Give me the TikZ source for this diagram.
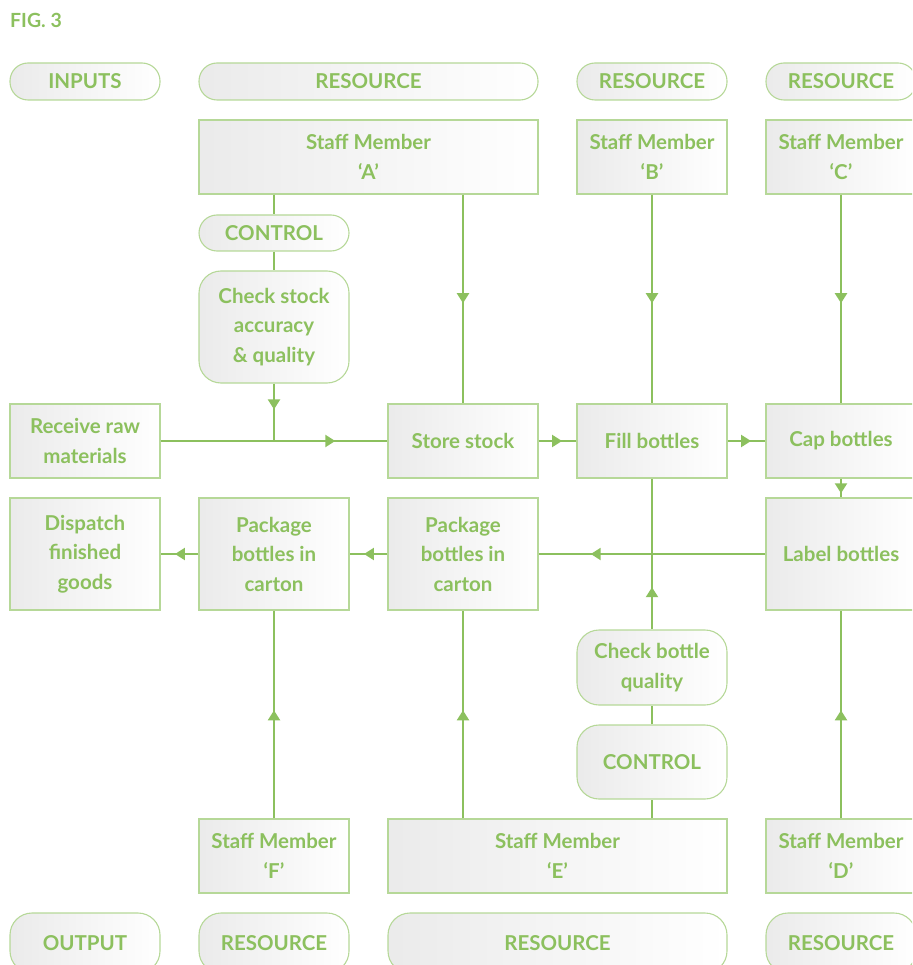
\documentclass[tikz,border=0pt]{standalone}
\usepackage{fontspec}
\setmainfont{Lato}
\usetikzlibrary{arrows.meta,decorations.markings}
\definecolor{tgreen}{RGB}{140,192,94}
\definecolor{lgreen}{RGB}{140,192,94}
\definecolor{bgreen}{RGB}{182,216,152}
\tikzset{
  box/.style={draw=bgreen, line width=1.1pt, left color=black!8, right color=white,
    text=tgreen, font=\fontsize{20.5}{29.5}\selectfont\bfseries, align=center, inner sep=0pt},
  pill/.style={box, rounded corners=18pt},
  rbox/.style={box, rounded corners=22pt},
  conn/.style={draw=lgreen, line width=2.2pt},
  tipat/.style={postaction={decorate}, decoration={markings,
    mark=at position #1 with {\arrow[lgreen]{Triangle[length=10pt,width=12pt]}}}}
}
\begin{document}
\begin{tikzpicture}[x=1pt,y=-1pt]
\useasboundingbox (0,0) rectangle (912,965);
\clip (0,0) rectangle (912,965);
\node[anchor=base west, text=tgreen, font=\fontsize{19.5}{24}\selectfont\bfseries, inner sep=0pt] (fig) at (10,28) {FIG. 3};
% header pills
\node[pill, minimum width=150, minimum height=37] (hin) at (85,81.5) {INPUTS};
\node[pill, minimum width=339, minimum height=37] (hra) at (368.5,81.5) {RESOURCE};
\node[pill, minimum width=150, minimum height=37] (hrb) at (652,81.5) {RESOURCE};
\node[pill, minimum width=150, minimum height=37] (hrc) at (841,81.5) {RESOURCE};
% staff top
\node[box, minimum width=339, minimum height=74] (sa) at (368.5,157) {Staff Member\\‘A’};
\node[box, minimum width=150, minimum height=74] (sb) at (652,157) {Staff Member\\‘B’};
\node[box, minimum width=150, minimum height=74] (sc) at (841,157) {Staff Member\\‘C’};
% control 1 and check stock
\node[pill, minimum width=150, minimum height=36] (ctl1) at (274,233) {CONTROL};
\node[rbox, minimum width=150, minimum height=112] (chk1) at (274,327) {Check stock\\accuracy\\\& quality};
% row 1
\node[box, minimum width=150, minimum height=74] (recv) at (85,441) {Receive raw\\materials};
\node[box, minimum width=150, minimum height=74] (store) at (463,441) {Store stock};
\node[box, minimum width=150, minimum height=74] (fill) at (652,441) {Fill bottles};
\node[box, minimum width=150, minimum height=74] (cap) at (841,441) {Cap bottles};
% row 2
\node[box, minimum width=150, minimum height=112] (disp) at (85,554) {Dispatch\\finished\\goods};
\node[box, minimum width=150, minimum height=112] (pk1) at (274,554) {Package\\bottles in\\carton};
\node[box, minimum width=150, minimum height=112] (pk2) at (463,554) {Package\\bottles in\\carton};
\node[box, minimum width=150, minimum height=112] (label) at (841,554) {Label bottles};
% check bottle and control 2
\node[rbox, minimum width=150, minimum height=75] (chk2) at (652,667.5) {Check bottle\\quality};
\node[rbox, minimum width=150, minimum height=74] (ctl2) at (652,762) {CONTROL};
% staff bottom
\node[box, minimum width=150, minimum height=74] (sf) at (274,856) {Staff Member\\‘F’};
\node[box, minimum width=339, minimum height=74] (se) at (557.5,856) {Staff Member\\‘E’};
\node[box, minimum width=150, minimum height=74] (sd) at (841,856) {Staff Member\\‘D’};
% bottom pills
\node[rbox, minimum width=150, minimum height=60] (out) at (85,943) {OUTPUT};
\node[rbox, minimum width=150, minimum height=60] (rf) at (274,943) {RESOURCE};
\node[rbox, minimum width=339, minimum height=60] (re) at (557.5,943) {RESOURCE};
\node[rbox, minimum width=150, minimum height=60] (rd) at (841,943) {RESOURCE};
% connectors
\draw[conn] (ctl1 |- sa.south) -- (ctl1.north);
\draw[conn] (ctl1.south) -- (chk1.north);
\draw[conn, tipat=0.45] (chk1.south) -- (chk1 |- recv.east);
\draw[conn, tipat=0.77] (recv.east) -- (store.west);
\draw[conn, tipat=0.52] (store |- sa.south) -- (store.north);
\draw[conn, tipat=0.62] (store.east) -- (fill.west);
\draw[conn, tipat=0.52] (sb.south) -- (fill.north);
\draw[conn, tipat=0.62] (fill.east) -- (cap.west);
\draw[conn, tipat=0.52] (sc.south) -- (cap.north);
\draw[conn, tipat=0.78] (cap.south) -- (label.north);
\draw[conn, tipat=0.77] (label.west) -- (pk2.east);
\draw[conn, tipat=0.62] (pk2.west) -- (pk1.east);
\draw[conn, tipat=0.62] (pk1.west) -- (disp.east);
\draw[conn, tipat=0.28] (chk2.north) -- (fill.south);
\draw[conn] (ctl2.north) -- (chk2.south);
\draw[conn] (ctl2 |- se.north) -- (ctl2.south);
\draw[conn, tipat=0.52] (sf.north) -- (pk1.south);
\draw[conn, tipat=0.52] (pk2 |- se.north) -- (pk2.south);
\draw[conn, tipat=0.52] (sd.north) -- (label.south);
\end{tikzpicture}
\end{document}
